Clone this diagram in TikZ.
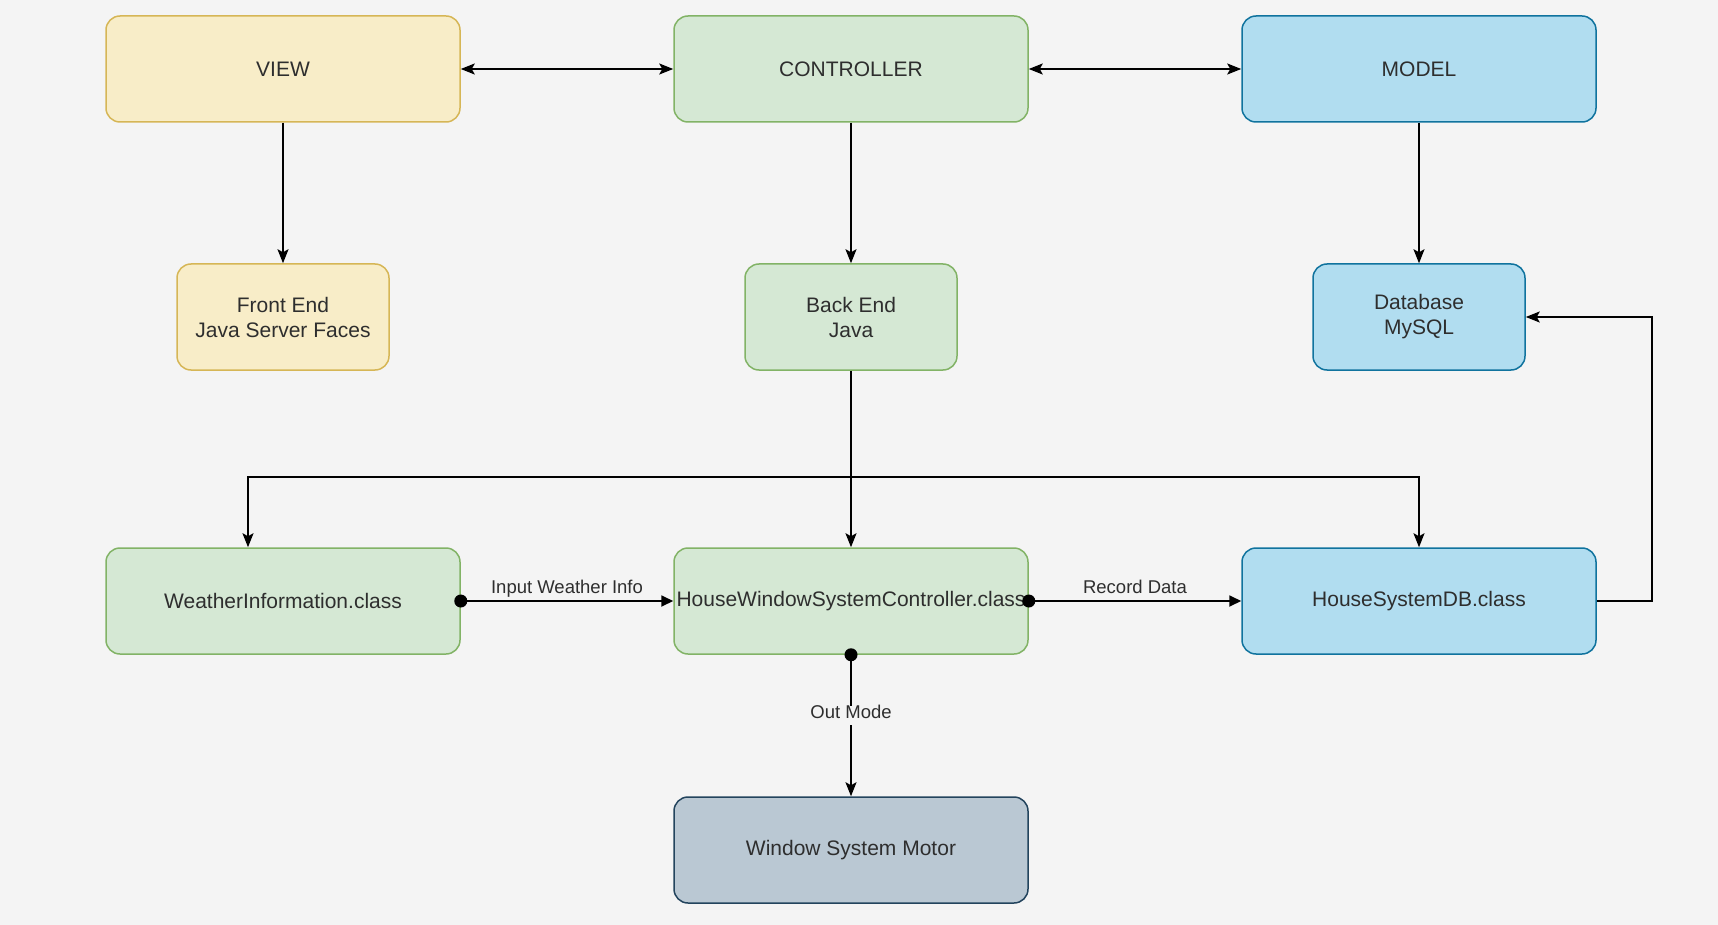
\documentclass[tikz,border=0pt]{standalone}
\usepackage{fontspec}
\setmainfont{Liberation Sans}
\usetikzlibrary{arrows.meta}
\definecolor{bg}{HTML}{F4F4F4}
\definecolor{txt}{HTML}{2E2E2E}
\definecolor{yfill}{HTML}{F8EDC8}
\definecolor{ydraw}{HTML}{D6B656}
\definecolor{gfill}{HTML}{D5E8D4}
\definecolor{gdraw}{HTML}{82B366}
\definecolor{bfill}{HTML}{B1DDF0}
\definecolor{bdraw}{HTML}{10739E}
\definecolor{sfill}{HTML}{BAC8D3}
\definecolor{sdraw}{HTML}{23445D}
\tikzset{
  box/.style={rounded corners=14pt, line width=1.5pt, minimum height=106pt,
    align=center, text=txt, font=\fontsize{21}{25}\selectfont, inner sep=0pt},
  wide/.style={box, minimum width=354pt},
  narrow/.style={box, minimum width=212pt},
  yel/.style={fill=yfill, draw=ydraw},
  grn/.style={fill=gfill, draw=gdraw},
  blu/.style={fill=bfill, draw=bdraw},
  slt/.style={fill=sfill, draw=sdraw},
  conn/.style={line width=1.8pt, draw=black},
  arr/.style={conn, -{Stealth[length=14pt,width=11pt,inset=3pt]}},
  biarr/.style={conn, {Stealth[length=14pt,width=11pt,inset=3pt]}-{Stealth[length=14pt,width=11pt,inset=3pt]}},
  blk/.style={conn, -{Triangle[length=12pt,width=11pt]}},
  lbl/.style={text=txt, font=\fontsize{18.5}{22}\selectfont, inner sep=2pt,
    text height=0.72em, text depth=0.2em},
}
\begin{document}
\begin{tikzpicture}[x=1pt, y=-1pt]
  \useasboundingbox[fill=bg] (0,0) rectangle (1718,925);

  % top row: MVC layers
  \node[wide, yel] (view)  at (283,69)  {VIEW};
  \node[wide, grn] (ctrl)  at (851,69)  {CONTROLLER};
  \node[wide, blu] (model) at (1419,69) {MODEL};

  % second row: technologies
  \node[narrow, yel] (front) at (283,317)  {Front End\\Java Server Faces};
  \node[narrow, grn] (back)  at (851,317)  {Back End\\Java};
  \node[narrow, blu] (db)    at (1419,317) {Database\\MySQL};

  % third row: classes
  \node[wide, grn] (weather) at (283,601)  {WeatherInformation.class};
  \node[wide, grn] (hwc)     at (851,601)  {HouseWindowSystemController.class};
  \node[wide, blu] (hsdb)    at (1419,601) {HouseSystemDB.class};

  % actuator
  \node[wide, slt] (motor) at (851,850) {Window System Motor};

  % layer links
  \draw[biarr] (view.east) -- (ctrl.west);
  \draw[biarr] (ctrl.east) -- (model.west);
  \draw[arr] (view.south)  -- (front.north);
  \draw[arr] (ctrl.south)  -- (back.north);
  \draw[arr] (model.south) -- (db.north);

  % distribution bus from the back end
  \coordinate (jn)   at (851,477);
  \coordinate (busL) at (248,477);
  \coordinate (busR) at (1419,477);
  \draw[arr] (back.south) -- (hwc.north);
  \draw[arr] (jn) -- (busL) -- (busL |- weather.north);
  \draw[arr] (jn) -- (busR) -- (hsdb.north);

  % persistence loop
  \draw[arr] (hsdb.east) -- ++(55,0) |- (db.east);

  % data flow between classes
  \draw[blk] (weather.east) -- node[lbl, above=3pt] {Input Weather Info} (hwc.west);
  \draw[blk] (hwc.east) -- node[lbl, above=3pt] {Record Data} (hsdb.west);
  \draw[arr] (hwc.south) -- node[lbl, fill=bg, inner ysep=5pt, pos=0.43] {Out Mode} (motor.north);
  \fill (weather.east) circle (6.5pt);
  \fill (hwc.east) circle (6.5pt);
  \fill (hwc.south) circle (6.5pt);
\end{tikzpicture}
\end{document}
